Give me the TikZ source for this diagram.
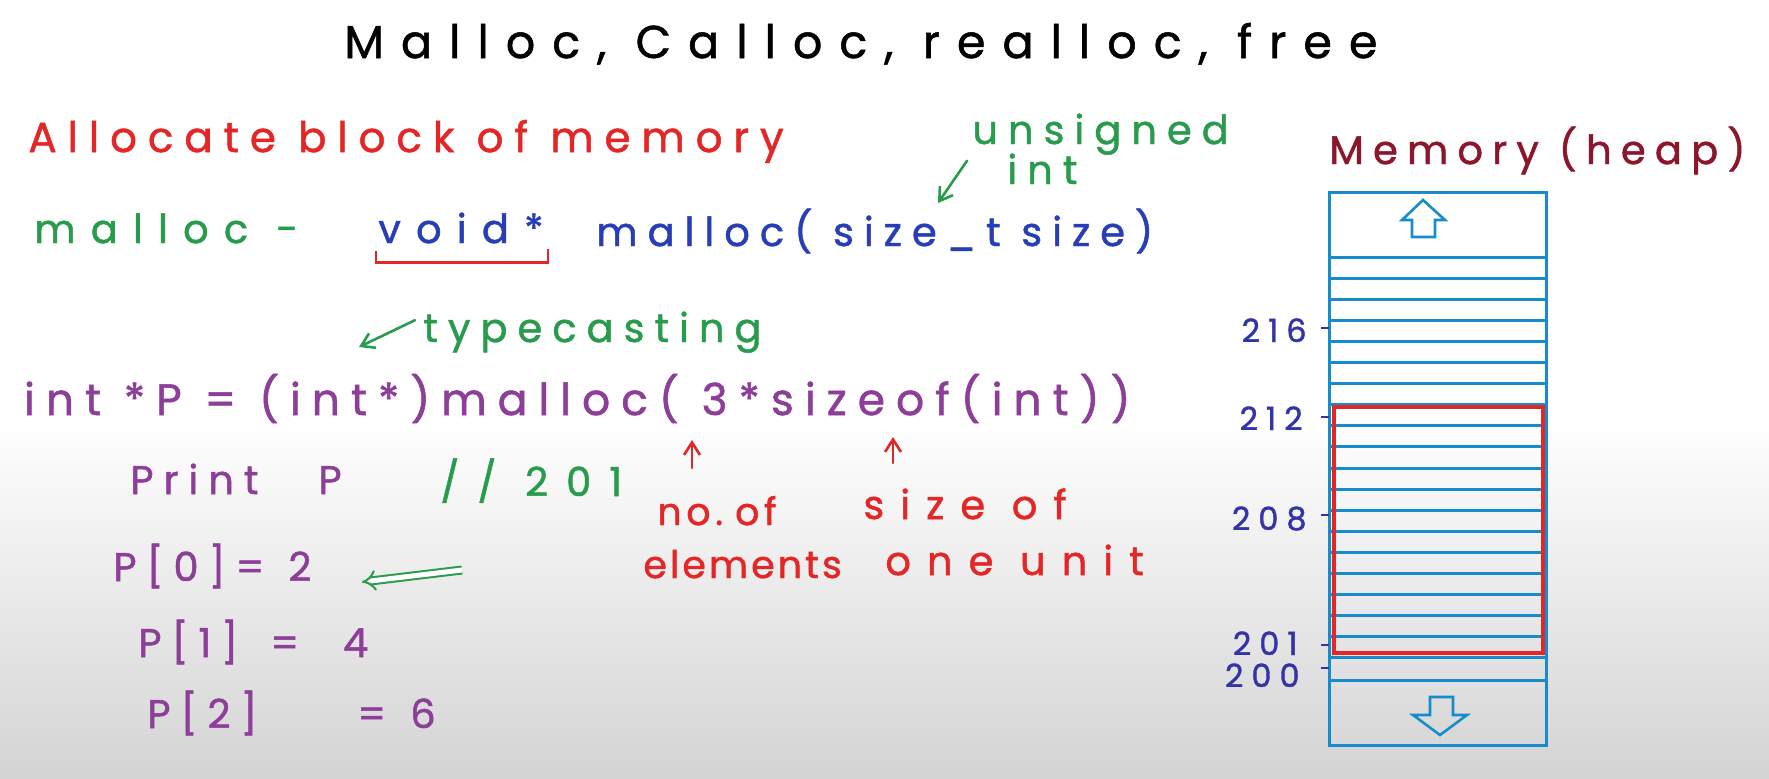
\documentclass[tikz,border=0pt]{standalone}
\usepackage{fontspec}
\usepackage{tikz}
\usetikzlibrary{arrows.meta,positioning,calc}
\newfontfamily\handfont[LetterSpace=25, FakeBold=1.2]{Poppins}
\definecolor{inkred}{RGB}{228,38,38}
\definecolor{inkgreen}{RGB}{40,156,76}
\definecolor{inkblue}{RGB}{40,62,182}
\definecolor{inkpurple}{RGB}{140,62,152}
\definecolor{inkmaroon}{RGB}{140,22,44}
\definecolor{inkaddr}{RGB}{52,52,168}
\definecolor{memblue}{RGB}{22,140,204}

\begin{document}
\begin{tikzpicture}[x=0.5pt, y=-0.5pt,
  hw/.style={inner sep=0pt, anchor=base west,
             font=\handfont\fontsize{#1}{#1}\selectfont},
  hw/.default=20pt,
  ls/.style={execute at begin node={\addfontfeature{LetterSpace=#1}}},
  ktxt/.style={hw=#1, text=black}, ktxt/.default=20pt,
  rtxt/.style={hw=#1, text=inkred}, rtxt/.default=20pt,
  gtxt/.style={hw=#1, text=inkgreen}, gtxt/.default=20pt,
  btxt/.style={hw=#1, text=inkblue}, btxt/.default=20pt,
  ptxt/.style={hw=#1, text=inkpurple}, ptxt/.default=20pt,
  addr/.style={inner sep=0pt, anchor=base east, text=inkaddr,
               font=\handfont\fontsize{16pt}{16pt}\selectfont},
  cell/.style={memblue, line width=1.5pt},
  heapbox/.style={inkred, line width=2.2pt},
  tick/.style={inkaddr, line width=1.2pt},
  ink/.style={line width=1.3pt, line cap=round,
              -{Straight Barb[length=2.2mm, width=2.8mm]}},
  garr/.style={ink, inkgreen},
  rarr/.style={ink, inkred},
  gdbl/.style={inkgreen, double, double distance=2.5pt, line width=1pt,
               -{Implies[length=2.5mm]}},
  rbrk/.style={inkred, line width=1.3pt}]
% ---- paper ----
\fill[white] (0,0) rectangle (1769,778);
\shade[top color=white, bottom color=black!17] (0,420) rectangle (1769,778);
\useasboundingbox (0,0) rectangle (1769,778);
% ---- heading ----
\node[ktxt=23pt, ls=37] (title) at (344,58) {Malloc, Calloc, realloc, free};
\node[rtxt=21pt, ls=26] (alloc) at (28,152) {Allocate block of memory};
\node[gtxt] (unsig) at (972,144) {unsigned};
\node[gtxt] (uint) at (1007,184) {int};
\node[hw, ls=23, text=inkmaroon] (mem) at (1329,164) {Memory (heap)};
% ---- malloc signature ----
\node[gtxt, ls=38] (mname) at (34,243) {malloc\hspace{14pt}-};
\node[btxt, ls=38] (void) at (378,243) {void*};
\node[btxt] (sig) at (596,246) {malloc( size\_t size)};
\coordinate (sizet) at (938,203);
\draw[garr] ([xshift=-20pt, yshift=4pt]uint.west) -- (sizet);
\draw[rbrk] ($(void.south west)+(-2,7)$) -- ++(0,12)
  -| ($(void.south east)+(4,5)$);
% ---- usage ----
\node[gtxt] (typec) at (423,342) {typecasting};
\coordinate (cast) at (359,347);
\draw[garr] ([xshift=-4pt, yshift=6pt]typec.west) -- (cast);
\node[ptxt=22pt, ls=25, anchor=base east] (decl) at (1131,415)
  {int *P = (int*)malloc( 3*sizeof(int))};
\node[ptxt] (print) at (130,494) {Print\hspace{30pt}P};
\node[gtxt, ls=45] (cmt) at (440,496) {// 201};
\node[rtxt=19pt, ls=12] (noof) at (657,525) {no.\hspace{6pt}of};
\node[rtxt=19pt, ls=8] (elem) at (643,578) {elements};
\node[rtxt, ls=40] (szof) at (863,519) {size of};
\node[rtxt, ls=40] (unit) at (885,575) {one unit};
\coordinate (three) at (692,440);
\coordinate (three0) at (692,468);
\coordinate (ofsz) at (893,437);
\coordinate (ofsz0) at (893,463);
\draw[rarr] (three0) -- (three);
\draw[rarr] (ofsz0) -- (ofsz);
\node[ptxt] (p0) at (113,581) {P[0]=\hspace{12pt}2};
\node[ptxt] (p1) at (138,657) {P[1]\hspace{16pt}=\hspace{22pt}4};
\node[ptxt] (p2) at (147,728) {P[2]\hspace{50pt}=\hspace{12pt}6};
\coordinate (chkR) at (462,570);
\coordinate (chkL) at (362,582);
\draw[gdbl] (chkR) -- (chkL);
% ---- memory column ----
\draw[cell] (1329,192) rectangle (1546,745);
\foreach \k in {0,...,19}
  \draw[cell] (1329,{257+21.1*\k}) -- (1546,{257+21.1*\k});
\draw[cell] (1329,680) -- (1546,680);
\draw[heapbox] (1334,407) rectangle (1543,653);
\draw[memblue, line width=1.3pt] (1412,237) -- (1412,220) -- (1402,220)
  -- (1423,200) -- (1445,220) -- (1435,220) -- (1435,237) -- cycle;
\draw[memblue, line width=1.3pt] (1430,697) -- (1430,715) -- (1413,715)
  -- (1440,735) -- (1467,715) -- (1453,715) -- (1453,697) -- cycle;
\foreach \a/\t/\b/\r in {216/328/342/1307, 212/417/430/1303,
    208/515/530/1307, 201/645/655/1298, 200/668/687/1300} {
  \draw[tick] (1321,\t) -- (1329,\t);
  \node[addr] (a\a) at (\r,\b) {\a};
}
\end{tikzpicture}
\end{document}
